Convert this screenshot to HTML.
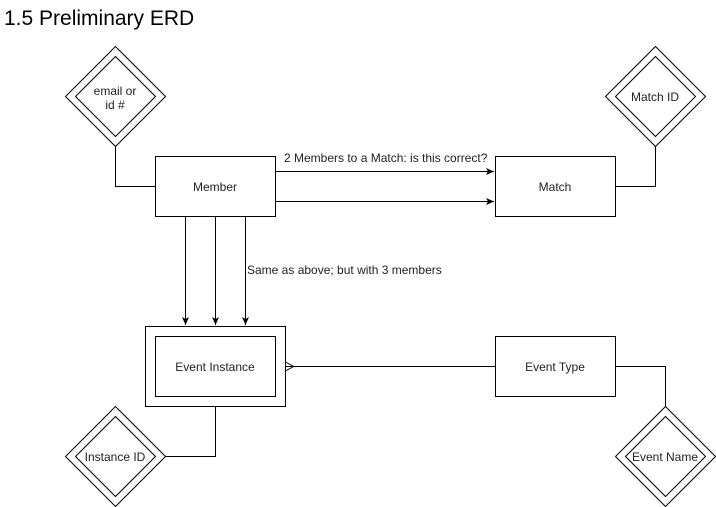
<!DOCTYPE html>
<html><head><style>
html,body{margin:0;padding:0;background:#fff;}
svg{display:block;}
text{font-family:"Liberation Sans",sans-serif;font-size:12px;fill:#222;}
</style></head><body>
<svg width="716" height="507" viewBox="0 0 716 507" xmlns="http://www.w3.org/2000/svg">
<defs>
<marker id="a" markerWidth="10" markerHeight="10" refX="8" refY="5" orient="auto" markerUnits="userSpaceOnUse">
<path d="M0,1.5 L8,5 L0,8.5 L2,5 Z" fill="#000"/>
</marker>
</defs>
<text x="4" y="25" style="font-size:21px;fill:#000">1.5 Preliminary ERD</text>
<g fill="none" stroke="#000" stroke-width="1">
<path d="M115.5,46.5 L165.5,96.5 L115.5,146.5 L65.5,96.5 Z"/>
<path d="M115.5,56.5 L155.5,96.5 L115.5,136.5 L75.5,96.5 Z"/>
<path d="M655.5,46.5 L705.5,96.5 L655.5,146.5 L605.5,96.5 Z"/>
<path d="M655.5,56.5 L695.5,96.5 L655.5,136.5 L615.5,96.5 Z"/>
<path d="M115.5,406.5 L165.5,456.5 L115.5,506.5 L65.5,456.5 Z"/>
<path d="M115.5,416.5 L155.5,456.5 L115.5,496.5 L75.5,456.5 Z"/>
<path d="M665.5,406.5 L715.5,456.5 L665.5,506.5 L615.5,456.5 Z"/>
<path d="M665.5,416.5 L705.5,456.5 L665.5,496.5 L625.5,456.5 Z"/>
<rect x="155.5" y="156.5" width="120" height="60"/>
<rect x="495.5" y="156.5" width="120" height="60"/>
<rect x="145.5" y="326.5" width="140" height="80"/>
<rect x="155.5" y="336.5" width="120" height="60"/>
<rect x="495.5" y="336.5" width="120" height="60"/>
<path d="M115.5,146.5 V186.5 H155.5"/>
<path d="M615.5,186.5 H655.5 V146.5"/>
<path d="M615.5,366.5 H665.5 V406.5"/>
<path d="M215.5,406.5 V456.5 H165.5"/>
<path d="M275.5,171.5 H494" marker-end="url(#a)"/>
<path d="M275.5,201.5 H494" marker-end="url(#a)"/>
<path d="M185.5,216.5 V325" marker-end="url(#a)"/>
<path d="M215.5,216.5 V325" marker-end="url(#a)"/>
<path d="M245.5,216.5 V325" marker-end="url(#a)"/>
<path d="M285.5,366.5 H495.5"/>
<path d="M285.5,362 L293.5,366.5 L285.5,371"/>
</g>
<g text-anchor="middle">
<text x="115" y="95">email or</text>
<text x="115" y="109">id #</text>
<text x="655" y="101">Match ID</text>
<text x="115" y="461">Instance ID</text>
<text x="665" y="461">Event Name</text>
<text x="215" y="191">Member</text>
<text x="555" y="191">Match</text>
<text x="215" y="371">Event Instance</text>
<text x="555" y="371">Event Type</text>
</g>
<text x="284" y="162">2 Members to a Match: is this correct?</text>
<text x="247" y="274">Same as above; but with 3 members</text>
</svg>
</body></html>
